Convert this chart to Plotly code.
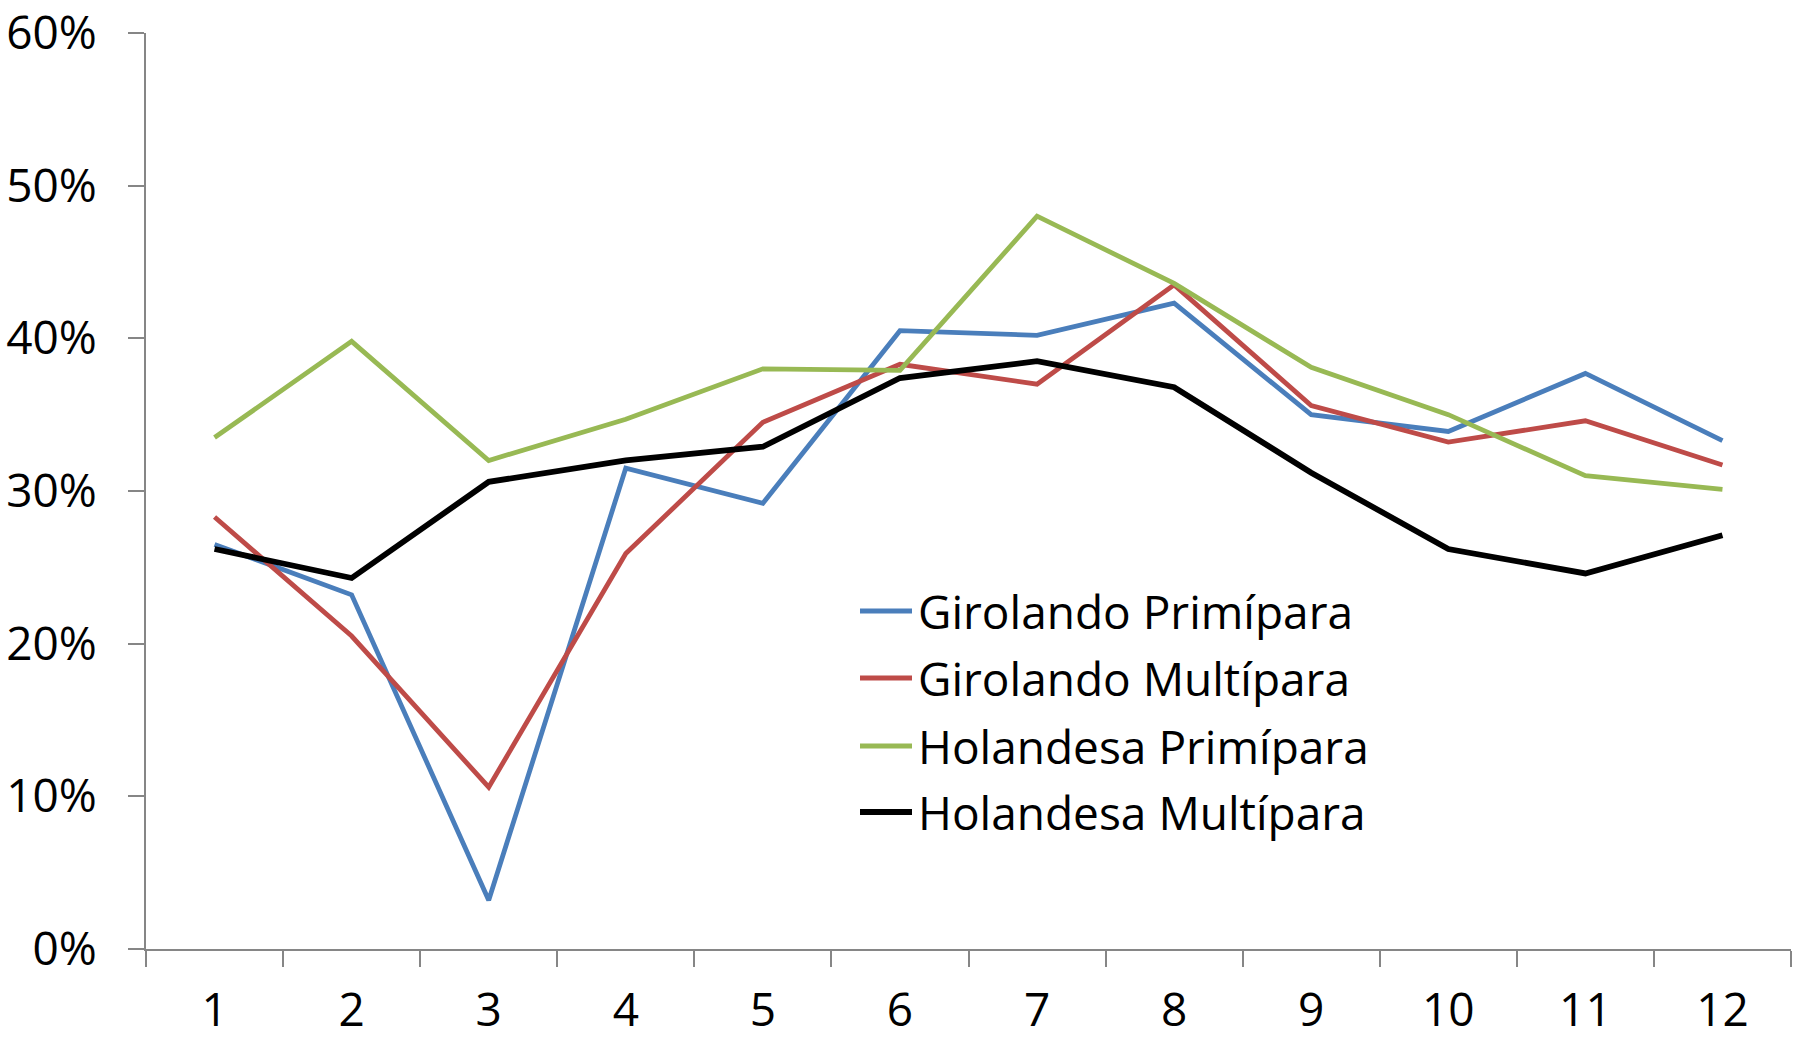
import plotly.graph_objects as go

months = ["1", "2", "3", "4", "5", "6", "7", "8", "9", "10", "11", "12"]
girolando_primipara = [0.265, 0.232, 0.032, 0.315, 0.292, 0.405, 0.402, 0.423, 0.350, 0.339, 0.377, 0.333]
girolando_multipara = [0.283, 0.205, 0.106, 0.259, 0.345, 0.383, 0.370, 0.435, 0.356, 0.332, 0.346, 0.317]
holandesa_primipara = [0.335, 0.398, 0.320, 0.347, 0.380, 0.379, 0.480, 0.436, 0.381, 0.350, 0.310, 0.301]
holandesa_multipara = [0.262, 0.243, 0.306, 0.320, 0.329, 0.374, 0.385, 0.368, 0.312, 0.262, 0.246, 0.271]
y_ticks = [0, 0.1, 0.2, 0.3, 0.4, 0.5, 0.6]

series = [
    ("Girolando Primípara", girolando_primipara, "#4A7EBB", 4.8),
    ("Girolando Multípara", girolando_multipara, "#BE4B48", 4.8),
    ("Holandesa Primípara", holandesa_primipara, "#98B954", 4.8),
    ("Holandesa Multípara", holandesa_multipara, "#000000", 5.8),
]

FONT = "Open Sans, Noto Sans, sans-serif"
W, H = 1799, 1039
PX0, PX1, PY0, PY1 = 146, 1791, 33, 949  # plot area in page pixels
ML, MR, MT, MB = PX0, W - PX1, PY0, H - PY1
PW, PH = W - ML - MR, H - MT - MB

fig = go.Figure()
for name, vals, color, w in series:
    fig.add_trace(go.Scatter(x=months, y=vals, mode="lines", name=name,
                             line=dict(color=color, width=w), showlegend=False))

# custom legend (keys + labels), positions in page pixels converted to paper
leg_line_x0, leg_line_x1, leg_text_x = 860, 912, 916
leg_rows_y = [611, 678, 746, 812]
for (name, vals, color, w), py in zip(series, leg_rows_y):
    yp = (PY1 - py) / PH
    fig.add_shape(type="line", xref="paper", yref="paper",
                  x0=(leg_line_x0 - PX0) / PW, x1=(leg_line_x1 - PX0) / PW,
                  y0=yp, y1=yp, line=dict(color=color, width=w))
    fig.add_annotation(xref="paper", yref="paper", x=(leg_text_x - PX0) / PW, y=yp,
                       text=name, showarrow=False, xanchor="left", yanchor="middle",
                       font=dict(family=FONT, size=46, color="black"))

fig.update_layout(
    width=W, height=H,
    margin=dict(l=ML, r=MR, t=MT, b=MB),
    paper_bgcolor="white", plot_bgcolor="white",
    font=dict(family=FONT, size=46, color="black"),
    showlegend=False,
)
fig.update_xaxes(
    type="category", range=[-0.5, 11.5], tickson="boundaries", ticks="outside", ticklen=16,
    tickwidth=2, tickcolor="#868686", showline=True, linecolor="#868686",
    linewidth=2, showgrid=False, zeroline=False, ticklabelstandoff=20, automargin=False,
)
fig.update_yaxes(
    range=[0, 0.6], tickvals=y_ticks, tickformat=".0%", ticks="outside",
    ticklen=16, tickwidth=2, tickcolor="#868686", showline=True,
    linecolor="#868686", linewidth=2, showgrid=False, zeroline=False,
    ticklabelstandoff=22, automargin=False,
)

fig.write_html(
    "out.html",
    config={"displayModeBar": False},
    post_script="document.body.style.margin='0';document.body.style.overflow='hidden';",
)
